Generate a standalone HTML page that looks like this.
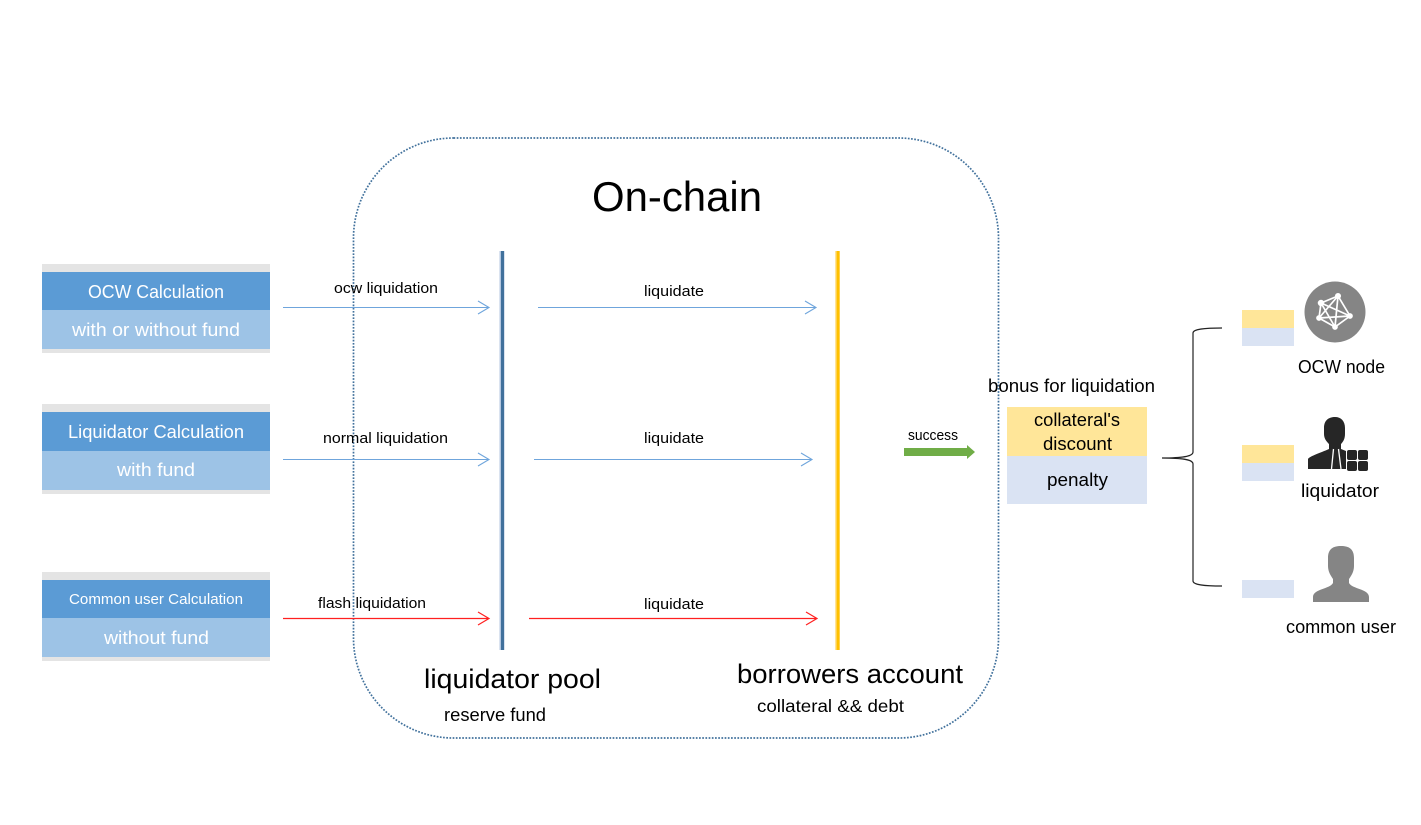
<!DOCTYPE html>
<html><head><meta charset="utf-8"><style>
html,body{margin:0;padding:0;background:#fff}
svg{display:block}
text{font-family:"Liberation Sans",sans-serif;fill:#000}
.w{fill:#fff}
</style></head><body>
<svg width="1421" height="825" viewBox="0 0 1421 825" xmlns="http://www.w3.org/2000/svg">
<rect width="1421" height="825" fill="#fff"/>
<rect x="353.500" y="138" width="645" height="600" rx="100" ry="100" fill="none" stroke="#41719c" stroke-width="1.700" stroke-dasharray="1.700 1.500"/>
<text x="592" y="211" font-size="42" textLength="170" lengthAdjust="spacingAndGlyphs">On-chain</text>

<!-- left cards -->
<rect x="42" y="264" width="228" height="89" fill="#e4e4e4"/>
<rect x="42" y="272" width="228" height="38" fill="#5b9bd5"/>
<rect x="42" y="310" width="228" height="39" fill="#9dc3e6"/>
<text class="w" x="88" y="298" font-size="18" textLength="136" lengthAdjust="spacingAndGlyphs">OCW Calculation</text>
<text class="w" x="72" y="336" font-size="18" textLength="168" lengthAdjust="spacingAndGlyphs">with or without fund</text>

<rect x="42" y="404" width="228" height="90" fill="#e4e4e4"/>
<rect x="42" y="412" width="228" height="39" fill="#5b9bd5"/>
<rect x="42" y="451" width="228" height="39" fill="#9dc3e6"/>
<text class="w" x="68" y="438" font-size="18" textLength="176" lengthAdjust="spacingAndGlyphs">Liquidator Calculation</text>
<text class="w" x="117" y="476" font-size="18" textLength="78" lengthAdjust="spacingAndGlyphs">with fund</text>

<rect x="42" y="572" width="228" height="89" fill="#e4e4e4"/>
<rect x="42" y="580" width="228" height="38" fill="#5b9bd5"/>
<rect x="42" y="618" width="228" height="39" fill="#9dc3e6"/>
<text class="w" x="69" y="604" font-size="14.500" textLength="174" lengthAdjust="spacingAndGlyphs">Common user Calculation</text>
<text class="w" x="104" y="644" font-size="18" textLength="105" lengthAdjust="spacingAndGlyphs">without fund</text>

<!-- vertical bars -->
<rect x="499.500" y="251" width="5" height="399" fill="#b4c7e0"/>
<rect x="501" y="251" width="3" height="399" fill="#41719c"/>
<rect x="835" y="251" width="5" height="399" fill="#ffe39a"/>
<rect x="836.500" y="251" width="3" height="399" fill="#ffc000"/>

<!-- arrows -->
<g fill="none" stroke="#6fa5dc" stroke-width="1.100">
<path d="M283 307.500H489M478 301l11 6.500l-11 6.500"/>
<path d="M538 307.500H816M805 301l11 6.500l-11 6.500"/>
<path d="M283 459.500H489M478 453l11 6.500l-11 6.500"/>
<path d="M534 459.500H812M801 453l11 6.500l-11 6.500"/>
</g>
<g fill="none" stroke="#ff2020" stroke-width="1.200">
<path d="M283 618.500H489M478 612l11 6.500l-11 6.500"/>
<path d="M529 618.500H817M806 612l11 6.500l-11 6.500"/>
</g>

<text x="334" y="293" font-size="14.500" textLength="104" lengthAdjust="spacingAndGlyphs">ocw liquidation</text>
<text x="644" y="296" font-size="14.500" textLength="60" lengthAdjust="spacingAndGlyphs">liquidate</text>
<text x="323" y="443" font-size="14.500" textLength="125" lengthAdjust="spacingAndGlyphs">normal liquidation</text>
<text x="644" y="443" font-size="14.500" textLength="60" lengthAdjust="spacingAndGlyphs">liquidate</text>
<text x="318" y="608" font-size="14.500" textLength="108" lengthAdjust="spacingAndGlyphs">flash liquidation</text>
<text x="644" y="609" font-size="14.500" textLength="60" lengthAdjust="spacingAndGlyphs">liquidate</text>

<text x="424" y="688" font-size="27" textLength="177" lengthAdjust="spacingAndGlyphs">liquidator pool</text>
<text x="444" y="721" font-size="18" textLength="102" lengthAdjust="spacingAndGlyphs">reserve fund</text>
<text x="737" y="683" font-size="27" textLength="226" lengthAdjust="spacingAndGlyphs">borrowers account</text>
<text x="757" y="712" font-size="17.500" textLength="147" lengthAdjust="spacingAndGlyphs">collateral &amp;&amp; debt</text>

<!-- success -->
<text x="908" y="440" font-size="14.500" textLength="50" lengthAdjust="spacingAndGlyphs">success</text>
<path d="M904 448H967V445L975 452L967 459V456H904Z" fill="#70ad47"/>

<!-- bonus -->
<text x="988" y="392" font-size="18" textLength="167" lengthAdjust="spacingAndGlyphs">bonus for liquidation</text>
<rect x="1007" y="407" width="140" height="49" fill="#ffe699"/>
<rect x="1007" y="456" width="140" height="48" fill="#dae3f3"/>
<text x="1034" y="426" font-size="18" textLength="86" lengthAdjust="spacingAndGlyphs">collateral's</text>
<text x="1043" y="450" font-size="18" textLength="69" lengthAdjust="spacingAndGlyphs">discount</text>
<text x="1047" y="486" font-size="18" textLength="61" lengthAdjust="spacingAndGlyphs">penalty</text>

<!-- brace -->
<path d="M1222 328C1205 328 1193 329 1193 333V452C1193 456 1185 458 1162 458C1185 458 1193 460 1193 464V581C1193 585 1205 586 1222 586" fill="none" stroke="#222" stroke-width="1.200"/>

<!-- small chips -->
<rect x="1242" y="310" width="52" height="18" fill="#ffe699"/>
<rect x="1242" y="328" width="52" height="18" fill="#dae3f3"/>
<rect x="1242" y="445" width="52" height="18" fill="#ffe699"/>
<rect x="1242" y="463" width="52" height="18" fill="#dae3f3"/>
<rect x="1242" y="580" width="52" height="18" fill="#dae3f3"/>

<!-- OCW node icon -->
<circle cx="1335" cy="312" r="30.500" fill="#858585"/>
<g stroke="#fff" stroke-width="1.700" fill="#fff">
<path d="M1321 303L1338 296L1350 316L1335 327L1319 318Z M1321 303L1350 316 M1321 303L1335 327 M1338 296L1335 327 M1338 296L1319 318 M1319 318L1350 316" fill="none"/>
<circle cx="1321" cy="303" r="2.400"/><circle cx="1338" cy="296" r="2.200"/><circle cx="1350" cy="316" r="2"/><circle cx="1335" cy="327" r="2"/><circle cx="1319" cy="318" r="2"/>
</g>
<text x="1298" y="373" font-size="18" textLength="87" lengthAdjust="spacingAndGlyphs">OCW node</text>

<!-- liquidator icon -->
<g fill="#262626">
<path d="M1324 428C1324 420 1329 417 1335 417C1341 417 1345 421 1345 428V434C1345 439 1343 442 1341 444V449L1346 451V469H1308V459C1310 456 1320 453 1329 449V444C1327 442 1324 439 1324 434Z"/>
<rect x="1347" y="450" width="10" height="10" rx="2"/><rect x="1358" y="450" width="10" height="10" rx="2"/>
<rect x="1347" y="461" width="10" height="10" rx="2"/><rect x="1358" y="461" width="10" height="10" rx="2"/>
</g>
<path d="M1333.500 449L1331.500 469M1338.500 449L1341 469" fill="none" stroke="#fff" stroke-width="1.300"/>
<text x="1301" y="497" font-size="18" textLength="78" lengthAdjust="spacingAndGlyphs">liquidator</text>

<!-- common user icon -->
<path d="M1328 558C1328 549 1333 546 1341 546C1349 546 1354 549 1354 558V566C1354 572 1351 576 1349 579V583C1352 589 1369 589 1369 597V602H1313V597C1313 589 1330 589 1333 583V579C1331 576 1328 572 1328 566Z" fill="#858585"/>
<text x="1286" y="633" font-size="18" textLength="110" lengthAdjust="spacingAndGlyphs">common user</text>
</svg>
</body></html>
